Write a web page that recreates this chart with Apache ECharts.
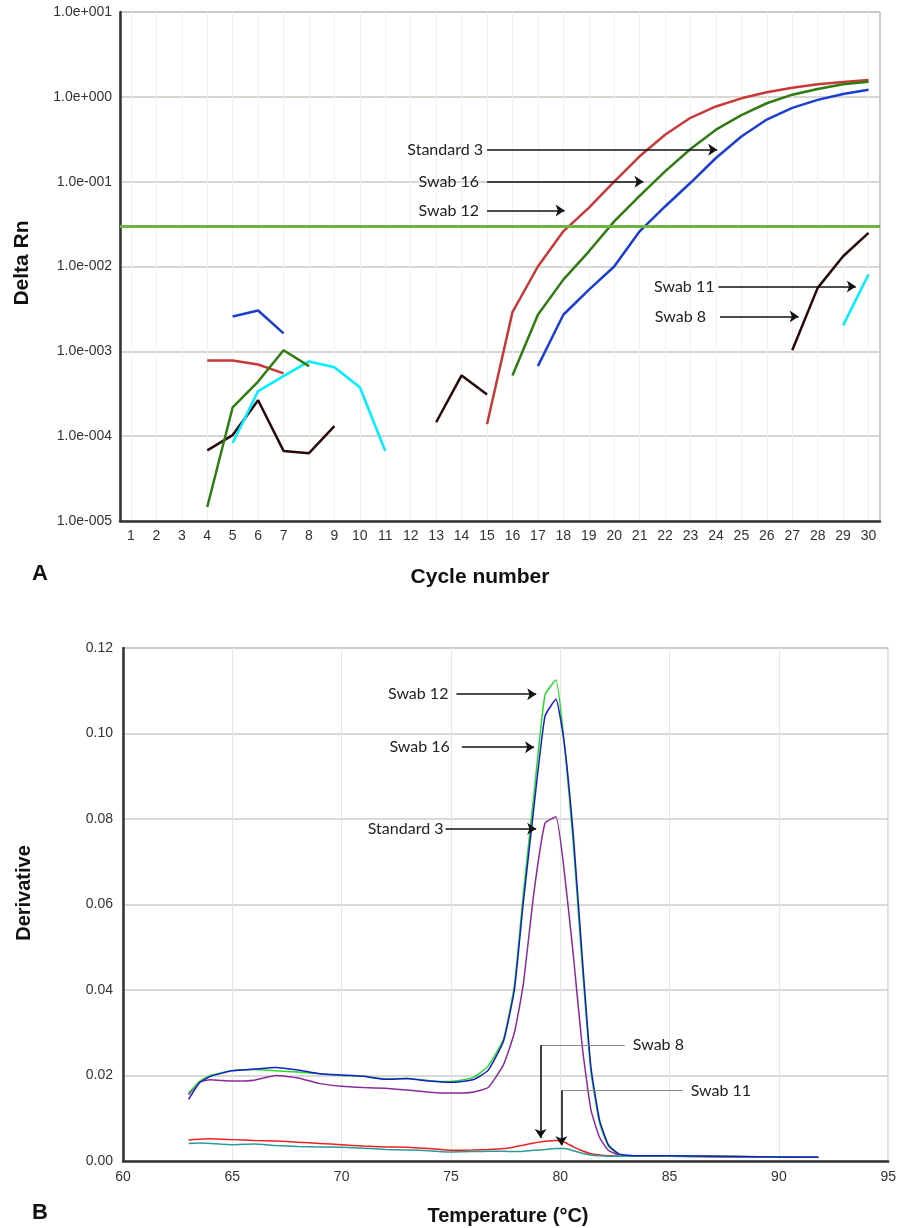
<!DOCTYPE html>
<html>
<head>
<meta charset="utf-8">
<script src="https://cdn.jsdelivr.net/npm/echarts@6/dist/echarts.min.js"></script>
<style>
html,body{margin:0;padding:0;background:#fff;}
#chart{width:899px;height:1228px;}
</style>
</head>
<body>
<div id="chart"></div>
<script>
// panel A: amplification plot (cycle 1..30), null = no trace drawn
var cycles = [1,2,3,4,5,6,7,8,9,10,11,12,13,14,15,16,17,18,19,20,21,22,23,24,25,26,27,28,29,30];
var swab12Amp = [null,null,null,7.8e-4,7.8e-4,7.0e-4,5.5e-4,null,null,null,null,null,null,null,1.38e-4,2.9e-3,1.0e-2,2.6e-2,4.9e-2,0.100,0.199,0.357,0.566,0.77,0.96,1.13,1.28,1.41,1.50,1.58];
var swab16Amp = [null,null,null,1.46e-5,2.19e-4,4.4e-4,1.03e-3,6.7e-4,null,null,null,null,null,null,null,5.2e-4,2.7e-3,7.0e-3,1.5e-2,3.4e-2,6.8e-2,0.132,0.243,0.41,0.61,0.84,1.06,1.24,1.41,1.51];
var std3Amp   = [null,null,null,null,2.58e-3,3.03e-3,1.63e-3,null,null,null,null,null,null,null,null,null,6.7e-4,2.7e-3,5.3e-3,1.0e-2,2.6e-2,5.1e-2,9.7e-2,0.19,0.34,0.54,0.74,0.92,1.08,1.21];
var swab11Amp = [null,null,null,null,8.3e-5,3.4e-4,5.1e-4,7.6e-4,6.5e-4,3.77e-4,6.7e-5,null,null,null,null,null,null,null,null,null,null,null,null,null,null,null,null,null,2.02e-3,8.05e-3];
var swab8Amp  = [null,null,null,6.8e-5,1.03e-4,2.65e-4,6.7e-5,6.3e-5,1.31e-4,null,null,null,1.46e-4,5.2e-4,3.1e-4,null,null,null,null,null,null,null,null,null,null,null,1.03e-3,5.6e-3,1.32e-2,2.49e-2];
var threshold = 0.0296;

// panel B: melt curves
var temps = [63,63.5,64,65,66,67,68,69,70,71,72,73,74,75,76,76.7,77.4,77.9,78.3,78.8,79.3,79.8,80.2,80.6,81.0,81.4,81.8,82.2,82.7,83.5,85,87,89,91,91.8];
var swab12Melt = [0.0159,0.0186,0.0200,0.0212,0.0214,0.0211,0.0208,0.0204,0.0200,0.0198,0.0192,0.0193,0.0188,0.0186,0.0195,0.0222,0.0285,0.0410,0.0620,0.0860,0.1090,0.1125,0.0970,0.0740,0.0460,0.0210,0.0088,0.0035,0.0015,0.0012,0.0012,0.0011,0.0010,0.0009,0.0009];
var swab16Melt = [0.0144,0.0183,0.0198,0.0211,0.0215,0.0219,0.0213,0.0204,0.0201,0.0198,0.0191,0.0193,0.0187,0.0184,0.0190,0.0212,0.0280,0.0400,0.0600,0.0830,0.1040,0.1080,0.0970,0.0760,0.0480,0.0220,0.0095,0.0038,0.0016,0.0012,0.0012,0.0011,0.0010,0.0009,0.0009];
var std3Melt   = [0.0155,0.0185,0.0190,0.0187,0.0189,0.0200,0.0194,0.0181,0.0175,0.0172,0.0170,0.0166,0.0161,0.0159,0.0161,0.0172,0.0225,0.0300,0.0410,0.0630,0.0790,0.0805,0.0670,0.0480,0.0270,0.0120,0.0055,0.0025,0.0014,0.0012,0.0012,0.0011,0.0010,0.0009,0.0009];
var swab8Melt  = [0.0049,0.0051,0.0052,0.0050,0.0048,0.0047,0.0044,0.0041,0.0038,0.0035,0.0033,0.0032,0.0029,0.0025,0.0026,0.0027,0.0029,0.0033,0.0037,0.0042,0.0046,0.0048,0.0044,0.0033,0.0024,0.0017,0.0014,0.0012,0.0011,0.0011,0.0011,0.0010,0.0010,0.0009,0.0009];
var swab11Melt = [0.0041,0.0042,0.0041,0.0038,0.0040,0.0036,0.0034,0.0033,0.0032,0.0030,0.0027,0.0026,0.0024,0.0021,0.0022,0.0023,0.0023,0.0022,0.0023,0.0025,0.0027,0.0029,0.0029,0.0024,0.0018,0.0014,0.0012,0.0011,0.0011,0.0011,0.0011,0.0010,0.0010,0.0009,0.0009];

function pairs(xs, ys){
	var out = [];
	for (var i = 0; i < xs.length; i++) out.push([xs[i], ys[i]]);
	return out;
}

// 1.0e-003 style tick labels
function sciLabel(v){
	var e = Math.round(Math.log10(v));
	var s = e < 0 ? '-' : '+';
	var n = String(Math.abs(e));
	while (n.length < 3) n = '0' + n;
	return '1.0e' + s + n;
}

var tickFont = {fontFamily:'Liberation Sans', fontSize:14, color:'#333'};

function ampLine(name, color, arr){
	return {
		name: name, type: 'line', xAxisIndex: 0, yAxisIndex: 0,
		data: pairs(cycles, arr), showSymbol: false, connectNulls: false,
		lineStyle: {color: color, width: 2.5}, itemStyle: {color: color}
	};
}
function meltLine(name, color, arr){
	return {
		name: name, type: 'line', xAxisIndex: 1, yAxisIndex: 1,
		data: pairs(temps, arr), showSymbol: false, smooth: 0.15,
		lineStyle: {color: color, width: 1.5}, itemStyle: {color: color}
	};
}
// arrow with label on its left
function arrowNote(text, x1, y1, x2, y2, gap){
	return [
		{coord:[x1, y1], label:{show:true, position:'start', distance:gap || 4, formatter:text, fontFamily:'Lato', fontSize:16, color:'#222'}},
		{coord:[x2, y2]}
	];
}

var chart = echarts.init(document.getElementById('chart'));
var option = {
	animation: false,
	grid: [
		{left:120, top:12, width:760, height:509, show:true, borderColor:'#999', borderWidth:1},
		{left:123, top:648, width:768, height:513, show:true, borderColor:'#999', borderWidth:1}
	],
	xAxis: [
		{
			type:'value', gridIndex:0, min:0.57, max:30.45,
			axisLine:{lineStyle:{color:'#333', width:2.5}},
			axisTick:{show:false, customValues:cycles},
			axisLabel:Object.assign({customValues:cycles, margin:8}, tickFont),
			splitLine:{show:true, lineStyle:{color:'#f0f0f0', width:1}}
		},
		{
			type:'value', gridIndex:1, min:60, max:95, interval:5,
			axisLine:{lineStyle:{color:'#333', width:2.5}},
			axisTick:{show:false},
			axisLabel:Object.assign({margin:9}, tickFont),
			splitLine:{show:true, lineStyle:{color:'#e6e6e6', width:1}}
		}
	],
	yAxis: [
		{
			type:'log', gridIndex:0, logBase:10, min:1e-5, max:10,
			axisLine:{show:true, lineStyle:{color:'#333', width:2.5}},
			axisTick:{show:false},
			axisLabel:Object.assign({margin:8, formatter:sciLabel}, tickFont),
			splitLine:{show:true, lineStyle:{color:'#cbc8bf', width:1.5}},
			minorSplitLine:{show:false}
		},
		{
			type:'value', gridIndex:1, min:0, max:0.12, interval:0.02,
			axisLine:{show:true, lineStyle:{color:'#333', width:2.5}},
			axisTick:{show:false},
			axisLabel:Object.assign({margin:10, formatter:function(v){ return v.toFixed(2); }}, tickFont),
			splitLine:{show:true, lineStyle:{color:'#cccccc', width:1.5}}
		}
	],
	series: [
		{
			name:'threshold', type:'line', xAxisIndex:0, yAxisIndex:0, data:[],
			markLine:{
				silent:true, symbol:'none', label:{show:false},
				lineStyle:{color:'#6cb33f', width:3, type:'solid'},
				data:[{yAxis:threshold}]
			}
		},
		ampLine('Swab 8', '#2a0808', swab8Amp),
		ampLine('Swab 11', '#00eeff', swab11Amp),
		ampLine('Swab 12', '#c83a3a', swab12Amp),
		ampLine('Swab 16', '#2f7d12', swab16Amp),
		ampLine('Standard 3', '#1a3fd0', std3Amp),
		{
			name:'notesA', type:'line', xAxisIndex:0, yAxisIndex:0, data:[],
			markLine:{
				silent:true, symbol:['none','arrow'], symbolSize:9,
				lineStyle:{color:'#111', width:1.6, type:'solid'},
				data:[
					arrowNote('Standard 3', 15.0, 0.238, 24.05, 0.238),
					arrowNote('Swab 16', 15.0, 0.100, 21.15, 0.100, 8),
					arrowNote('Swab 12', 15.0, 0.0456, 18.05, 0.0456, 8),
					arrowNote('Swab 11', 24.1, 0.00582, 29.5, 0.00582),
					arrowNote('Swab 8', 24.16, 0.00258, 27.25, 0.00258, 14)
				]
			}
		},
		meltLine('Standard 3', '#8a2a9a', std3Melt),
		meltLine('Swab 8', '#ee2020', swab8Melt),
		meltLine('Swab 11', '#2a9a9a', swab11Melt),
		meltLine('Swab 12', '#22dd22', swab12Melt),
		meltLine('Swab 16', '#1a1acc', swab16Melt),
		{
			name:'notesB', type:'line', xAxisIndex:1, yAxisIndex:1, data:[],
			markLine:{
				silent:true, symbol:['none','arrow'], symbolSize:9,
				lineStyle:{color:'#111', width:1.6, type:'solid'},
				data:[
					arrowNote('Swab 12', 75.25, 0.1092, 78.9, 0.1092, 8),
					arrowNote('Swab 16', 75.5, 0.0968, 78.8, 0.0968, 12),
					arrowNote('Standard 3', 74.75, 0.0777, 78.9, 0.0777, 2),
					[{coord:[79.1, 0.0271], symbol:'none', lineStyle:{color:'#888', width:1}}, {coord:[82.95, 0.0271], symbol:'none', label:{show:true, position:'end', distance:8, formatter:'Swab 8', fontFamily:'Lato', fontSize:16, color:'#222'}}],
					[{coord:[79.1, 0.0271]}, {coord:[79.1, 0.0054]}],
					[{coord:[80.05, 0.0165], symbol:'none', lineStyle:{color:'#888', width:1}}, {coord:[85.6, 0.0165], symbol:'none', label:{show:true, position:'end', distance:8, formatter:'Swab 11', fontFamily:'Lato', fontSize:16, color:'#222'}}],
					[{coord:[80.05, 0.0165]}, {coord:[80.05, 0.0037]}]
				]
			}
		}
	],
	graphic: [
		{type:'text', x:22, y:263, rotation:Math.PI/2, style:{text:'Delta Rn', font:'bold 21px "Liberation Sans"', fill:'#111', textAlign:'center', textVerticalAlign:'middle'}},
		{type:'text', x:480, y:577, style:{text:'Cycle number', font:'bold 21px "Liberation Sans"', fill:'#111', textAlign:'center', textVerticalAlign:'middle'}},
		{type:'text', x:40, y:574, style:{text:'A', font:'bold 22px "Liberation Sans"', fill:'#111', textAlign:'center', textVerticalAlign:'middle'}},
		{type:'text', x:24, y:893, rotation:Math.PI/2, style:{text:'Derivative', font:'bold 20px "Liberation Sans"', fill:'#111', textAlign:'center', textVerticalAlign:'middle'}},
		{type:'text', x:508, y:1216, style:{text:'Temperature (°C)', font:'bold 20px "Liberation Sans"', fill:'#111', textAlign:'center', textVerticalAlign:'middle'}},
		{type:'text', x:40, y:1213, style:{text:'B', font:'bold 22px "Liberation Sans"', fill:'#111', textAlign:'center', textVerticalAlign:'middle'}}
	]
};
chart.setOption(option);
</script>
</body>
</html>
